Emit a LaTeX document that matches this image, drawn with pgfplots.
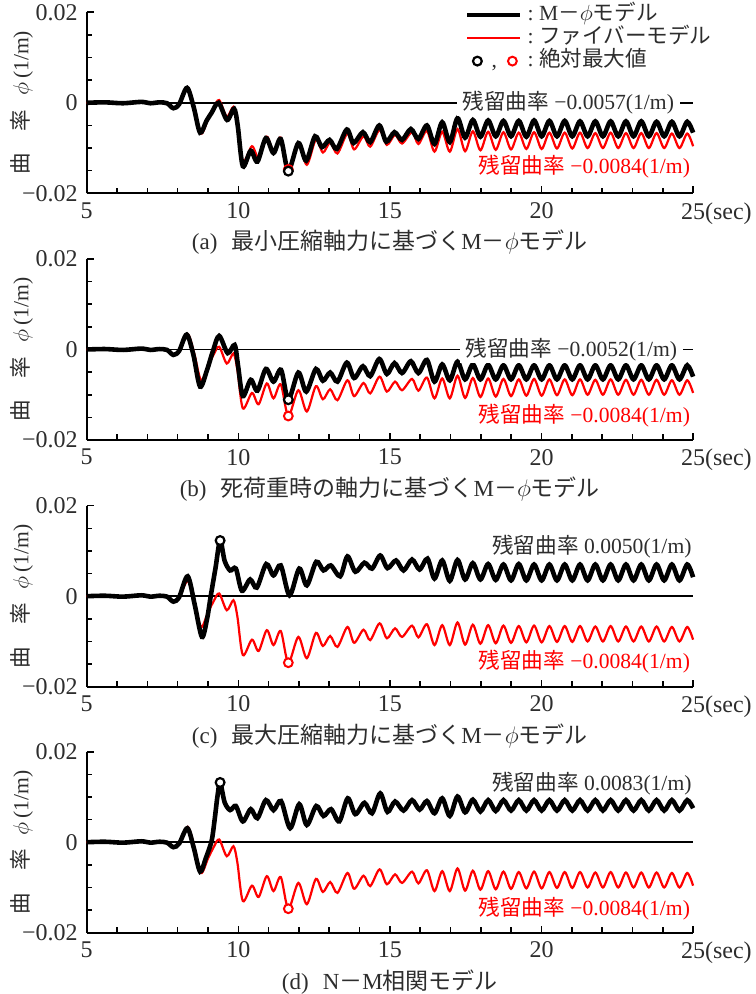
\documentclass[border=0pt]{standalone}
\usepackage{pgfplots}
\usepackage{pgfplotstable}
\pgfplotsset{compat=1.18}
\usepackage{fontspec}
\setmainfont{Liberation Serif}
\newfontfamily\jp{Noto Sans CJK JP}

\definecolor{txt}{RGB}{45,45,45}
\newcommand\lab{\fontsize{10.8}{12}\selectfont}
\newcommand\Mphi{M{\jp －}$\phi${\jp モデル}}

% fiber model (same in all four panels)
\pgfplotstableread{
t phi
5.00 0
5.60 0.0001
6.20 -0.0001
6.80 0.0002
7.10 -0.0001
7.40 0.0001
7.65 -0.0001
7.86 -0.0012
8.05 -0.0003
8.33 0.0034
8.55 -0.0010
8.77 -0.0068
9.00 -0.0036
9.18 -0.0012
9.37 0.0006
9.62 -0.0031
9.84 -0.0009
9.97 -0.0045
10.15 -0.0130
10.45 -0.0096
10.67 -0.0121
10.94 -0.0075
11.16 -0.0108
11.40 -0.0077
11.65 -0.0147
11.98 -0.0090
12.26 -0.0137
12.56 -0.0081
12.79 -0.0110
13.03 -0.0088
13.27 -0.0112
13.60 -0.0068
13.82 -0.0103
14.13 -0.0074
14.35 -0.0097
14.66 -0.0060
14.90 -0.0093
15.17 -0.0071
15.40 -0.0090
15.73 -0.0065
15.94 -0.0091
16.22 -0.0062
16.47 -0.0108
16.725 -0.0064
16.975 -0.0108
17.23 -0.0058
17.48 -0.0107
17.735 -0.0063
17.985 -0.0105
18.24 -0.0064
18.49 -0.0104
18.745 -0.0065
18.995 -0.0103
19.25 -0.0066
19.50 -0.0102
19.755 -0.0065
20.005 -0.0102
20.26 -0.0066
20.51 -0.0101
20.765 -0.0066
21.015 -0.0101
21.27 -0.0066
21.52 -0.0100
21.775 -0.0067
22.025 -0.0100
22.28 -0.0066
22.53 -0.0100
22.785 -0.0067
23.035 -0.0100
23.29 -0.0067
23.54 -0.0100
23.795 -0.0067
24.045 -0.0100
24.30 -0.0068
24.55 -0.0100
24.805 -0.0068
25.00 -0.0096
}\fiber

% (a) minimum compressive axial force
\pgfplotstableread{
t phi
5.00 0
5.60 0.0001
6.20 -0.0001
6.80 0.0002
7.10 -0.0001
7.40 0.0001
7.65 -0.0001
7.86 -0.0012
8.05 -0.0003
8.31 0.0033
8.53 -0.0010
8.74 -0.0066
8.95 -0.0040
9.12 -0.0022
9.35 0.0000
9.63 -0.0038
9.86 -0.0013
9.98 -0.0050
10.15 -0.0140
10.41 -0.0106
10.63 -0.0130
10.91 -0.0078
11.16 -0.0111
11.40 -0.0080
11.65 -0.0150
11.98 -0.0089
12.24 -0.0128
12.53 -0.0074
12.76 -0.0098
13.01 -0.0082
13.25 -0.0102
13.58 -0.0059
13.80 -0.0089
14.11 -0.0065
14.35 -0.0087
14.65 -0.0050
14.88 -0.0086
15.15 -0.0065
15.40 -0.0082
15.69 -0.0058
15.94 -0.0080
16.22 -0.0050
16.47 -0.0091
16.725 -0.0043
16.975 -0.0087
17.23 -0.0034
17.48 -0.0077
17.735 -0.0038
17.985 -0.0075
18.24 -0.0039
18.49 -0.0074
18.745 -0.0040
18.995 -0.0074
19.25 -0.0040
19.50 -0.0075
19.755 -0.0039
20.005 -0.0074
20.26 -0.0040
20.51 -0.0074
20.765 -0.0040
21.015 -0.0074
21.27 -0.0041
21.52 -0.0074
21.775 -0.0041
22.025 -0.0074
22.28 -0.0041
22.53 -0.0074
22.785 -0.0041
23.035 -0.0074
23.29 -0.0041
23.54 -0.0074
23.795 -0.0042
24.045 -0.0074
24.30 -0.0042
24.55 -0.0074
24.805 -0.0042
25.00 -0.0066
}\blacka

% (b) axial force under dead load
\pgfplotstableread{
t phi
5.00 0
5.60 0.0001
6.20 -0.0001
6.80 0.0002
7.10 -0.0001
7.40 0.0001
7.65 -0.0001
7.86 -0.0012
8.05 -0.0003
8.30 0.0033
8.52 -0.0012
8.74 -0.0082
8.97 -0.0045
9.17 -0.0002
9.37 0.0030
9.65 -0.0008
9.88 0.0010
9.99 -0.0035
10.15 -0.0103
10.41 -0.0067
10.63 -0.0091
10.91 -0.0043
11.16 -0.0071
11.41 -0.0045
11.65 -0.0111
11.98 -0.0051
12.24 -0.0093
12.56 -0.0043
12.79 -0.0069
13.03 -0.0051
13.27 -0.0071
13.58 -0.0029
13.82 -0.0063
14.11 -0.0037
14.35 -0.0059
14.65 -0.0021
14.90 -0.0054
15.15 -0.0030
15.40 -0.0052
15.69 -0.0026
15.94 -0.0052
16.22 -0.0023
16.47 -0.0071
16.725 -0.0033
16.975 -0.0068
17.23 -0.0027
17.48 -0.0066
17.735 -0.0033
17.985 -0.0066
18.24 -0.0034
18.49 -0.0066
18.745 -0.0035
18.995 -0.0066
19.25 -0.0035
19.50 -0.0066
19.755 -0.0035
20.005 -0.0066
20.26 -0.0035
20.51 -0.0066
20.765 -0.0035
21.015 -0.0066
21.27 -0.0035
21.52 -0.0066
21.775 -0.0035
22.025 -0.0066
22.28 -0.0035
22.53 -0.0066
22.785 -0.0035
23.035 -0.0066
23.29 -0.0035
23.54 -0.0066
23.795 -0.0035
24.045 -0.0066
24.30 -0.0035
24.55 -0.0066
24.805 -0.0035
25.00 -0.0060
}\blackb

% (c) maximum compressive axial force
\pgfplotstableread{
t phi
5.00 0
5.60 0.0001
6.20 -0.0001
6.80 0.0002
7.10 -0.0001
7.40 0.0001
7.65 -0.0001
7.86 -0.0012
8.05 -0.0002
8.33 0.0044
8.56 -0.0018
8.80 -0.0090
8.97 -0.0050
9.09 0.0000
9.25 0.0063
9.40 0.0123
9.55 0.0078
9.73 0.0057
9.92 0.0061
10.12 0.0012
10.39 0.0037
10.61 0.0019
10.92 0.0071
11.16 0.0046
11.40 0.0068
11.69 0.0002
12.01 0.0061
12.26 0.0024
12.57 0.0076
12.81 0.0057
13.05 0.0068
13.36 0.0044
13.60 0.0088
13.86 0.0054
14.16 0.0074
14.41 0.0061
14.68 0.0090
14.92 0.0062
15.20 0.0079
15.45 0.0057
15.73 0.0081
15.98 0.0059
16.24 0.0083
16.47 0.0039
16.725 0.0079
16.975 0.0034
17.23 0.0080
17.48 0.0037
17.735 0.0073
17.985 0.0037
18.24 0.0071
18.49 0.0036
18.745 0.0070
18.995 0.0035
19.25 0.0071
19.50 0.0035
19.755 0.0070
20.005 0.0035
20.26 0.0070
20.51 0.0035
20.765 0.0070
21.015 0.0035
21.27 0.0070
21.52 0.0035
21.775 0.0070
22.025 0.0035
22.28 0.0070
22.53 0.0035
22.785 0.0070
23.035 0.0035
23.29 0.0070
23.54 0.0035
23.795 0.0070
24.045 0.0035
24.30 0.0070
24.55 0.0035
24.805 0.0070
25.00 0.0042
}\blackc

% (d) N-M interaction model
\pgfplotstableread{
t phi
5.00 0
5.60 0.0001
6.20 -0.0001
6.80 0.0002
7.10 -0.0001
7.40 0.0001
7.65 -0.0001
7.86 -0.0011
8.05 -0.0003
8.32 0.0031
8.53 -0.0012
8.74 -0.0065
8.93 -0.0035
9.12 0.0003
9.22 0.0050
9.31 0.0100
9.40 0.0132
9.55 0.0088
9.73 0.0071
9.92 0.0080
10.15 0.0046
10.41 0.0073
10.63 0.0053
10.91 0.0093
11.16 0.0071
11.41 0.0091
11.71 0.0031
12.01 0.0084
12.26 0.0038
12.57 0.0080
12.81 0.0058
13.06 0.0073
13.33 0.0046
13.61 0.0097
13.86 0.0062
14.16 0.0087
14.41 0.0064
14.68 0.0108
14.92 0.0067
15.17 0.0090
15.45 0.0070
15.73 0.0093
15.98 0.0072
16.22 0.0091
16.47 0.0064
16.725 0.0097
16.975 0.0058
17.23 0.0101
17.48 0.0066
17.735 0.0094
17.985 0.0068
18.24 0.0093
18.49 0.0069
18.745 0.0093
18.995 0.0070
19.25 0.0093
19.50 0.0070
19.755 0.0093
20.005 0.0070
20.26 0.0093
20.51 0.0070
20.765 0.0093
21.015 0.0070
21.27 0.0093
21.52 0.0070
21.775 0.0093
22.025 0.0070
22.28 0.0093
22.53 0.0070
22.785 0.0093
23.035 0.0070
23.29 0.0093
23.54 0.0070
23.795 0.0093
24.045 0.0070
24.30 0.0093
24.55 0.0070
24.805 0.0093
25.00 0.0075
}\blackd

\pgfplotsset{
  panel/.style={
    width=303.2pt, height=90.5pt, scale only axis,
    xmin=5, xmax=25, ymin=-0.02, ymax=0.02,
    axis lines=left, axis line style={-, line width=1pt},
    xtick={5,10,15,20,25}, xticklabels={5,10,15,20,25\rlap{(sec)}},
    ytick={-0.02,0,0.02}, yticklabels={−0.02,0,0.02},
    scaled y ticks=false,
    minor x tick num=4, minor y tick num=3,
    tick align=inside, major tick length=3.5pt, minor tick length=2.8pt,
    tick style={line width=0.8pt, black},
    tick label style={font=\fontsize{12}{13}\selectfont, text=txt},
    xticklabel style={yshift=-1pt},
    yticklabel style={xshift=-1pt},
    ylabel={{\jp 曲　率}\hspace{7pt}$\phi$\hspace{2pt}(1/m)},
    ylabel style={at={([xshift=-32.5pt]axis description cs:0,0.5)}, anchor=center, font=\lab, text=txt},
    xlabel style={at={([yshift=-24.6pt]axis description cs:0.5,0)}, anchor=center, font=\fontsize{11.5}{13}\selectfont, text=txt},
    clip=false,
  },
  zeroline/.style={black, line width=0.85pt, forget plot},
  fibre/.style={red, line width=1.1pt, smooth, no marks, forget plot},
  mphi/.style={black, line width=2.3pt, smooth, no marks, forget plot},
  redmax/.style={only marks, mark=*, mark size=2.2pt, mark options={draw=red, fill=white, line width=1pt}, forget plot},
  blackmax/.style={only marks, mark=*, mark size=2.2pt, mark options={draw=black, fill=white, line width=1.1pt}, forget plot},
}

\begin{document}
\begin{tikzpicture}
\path[use as bounding box] (-43.35pt,96.65pt) rectangle (334.15pt,-400.35pt);

% (a)
\begin{axis}[panel,
    xlabel={(a)\hspace{7pt}{\jp 最小圧縮軸力に基づく}\Mphi},
    legend style={draw=none, fill=none, at={(rel axis cs:0.624,1.048)}, anchor=north west,
      inner sep=0pt, outer sep=0pt, row sep=0pt, font=\lab, text=txt,
      nodes={inner xsep=2.5pt, inner ysep=0pt, text height=8.5pt, text depth=3pt}},
    legend cell align=left,
    legend image code/.code={\draw[#1] (0pt,0pt) -- (26.5pt,0pt);},
  ]
  \addplot[zeroline] coordinates {(5,0) (25,0)};
  \addplot[fibre] table {\fiber};
  \addplot[mphi] table {\blacka};
  \addplot[redmax] coordinates {(11.65,-0.0147)};
  \addplot[blackmax] coordinates {(11.65,-0.0151)};
  \node[anchor=east, fill=white, inner xsep=3pt, inner ysep=1pt, font=\lab, text=txt] at (axis cs:24.58,0) {{\jp 残留曲率} −0.0057(1/m)};
  \node[anchor=east, inner sep=0pt, font=\lab, text=red] at (axis cs:24.91,-0.0142) {{\jp 残留曲率} −0.0084(1/m)};
  \addlegendimage{black, line width=2.3pt}
  \addlegendentry{:\ \Mphi}
  \addlegendimage{red, line width=1.1pt}
  \addlegendentry{:\ {\jp ファイバーモデル}}
  \addlegendimage{draw=none, legend image code/.code={
      \path[draw=none] (0pt,0pt) -- (26.5pt,0pt);
      \draw[solid, black, line width=1.1pt, fill=white] (5pt,0pt) circle (2.2pt);
      \node[draw=none, anchor=base, inner sep=0pt, text=txt] at (13.5pt,-3pt) {,};
      \draw[solid, red, line width=1pt, fill=white] (22.5pt,0pt) circle (2.2pt);}}
  \addlegendentry{:\ {\jp 絶対最大値}}
\end{axis}

% (b)
\begin{axis}[panel, at={(0,-123.35pt)},
    xlabel={(b)\hspace{7pt}{\jp 死荷重時の軸力に基づく}\Mphi}]
  \addplot[zeroline] coordinates {(5,0) (25,0)};
  \addplot[fibre] table {\fiber};
  \addplot[mphi] table {\blackb};
  \addplot[redmax] coordinates {(11.65,-0.0147)};
  \addplot[blackmax] coordinates {(11.65,-0.0111)};
  \node[anchor=east, fill=white, inner xsep=3pt, inner ysep=1pt, font=\lab, text=txt] at (axis cs:24.68,0) {{\jp 残留曲率} −0.0052(1/m)};
  \node[anchor=east, inner sep=0pt, font=\lab, text=red] at (axis cs:24.91,-0.0145) {{\jp 残留曲率} −0.0084(1/m)};
\end{axis}

% (c)
\begin{axis}[panel, at={(0,-246.7pt)},
    xlabel={(c)\hspace{7pt}{\jp 最大圧縮軸力に基づく}\Mphi}]
  \addplot[zeroline] coordinates {(5,0) (25,0)};
  \addplot[fibre] table {\fiber};
  \addplot[mphi] table {\blackc};
  \addplot[redmax] coordinates {(11.65,-0.0147)};
  \addplot[blackmax] coordinates {(9.40,0.0123)};
  \node[anchor=east, inner sep=0pt, font=\lab, text=txt] at (axis cs:24.96,0.0109) {{\jp 残留曲率} 0.0050(1/m)};
  \node[anchor=east, inner sep=0pt, font=\lab, text=red] at (axis cs:24.91,-0.0145) {{\jp 残留曲率} −0.0084(1/m)};
\end{axis}

% (d)
\begin{axis}[panel, at={(0,-369.7pt)},
    xlabel={(d)\hspace{7pt}N{\jp －}M{\jp 相関モデル}}]
  \addplot[zeroline] coordinates {(5,0) (25,0)};
  \addplot[fibre] table {\fiber};
  \addplot[mphi] table {\blackd};
  \addplot[redmax] coordinates {(11.65,-0.0147)};
  \addplot[blackmax] coordinates {(9.40,0.0132)};
  \node[anchor=east, inner sep=0pt, font=\lab, text=txt] at (axis cs:24.96,0.0130) {{\jp 残留曲率} 0.0083(1/m)};
  \node[anchor=east, inner sep=0pt, font=\lab, text=red] at (axis cs:24.91,-0.0146) {{\jp 残留曲率} −0.0084(1/m)};
\end{axis}
\end{tikzpicture}
\end{document}
